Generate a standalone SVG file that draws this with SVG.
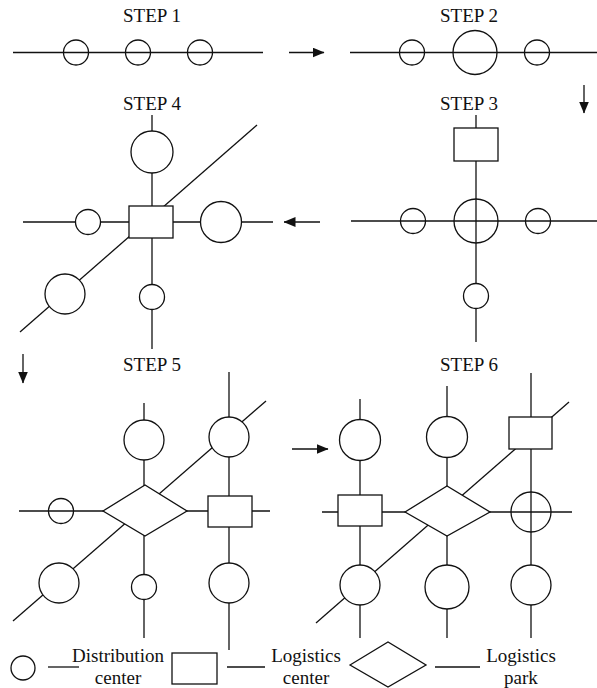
<svg xmlns="http://www.w3.org/2000/svg" width="597" height="688" viewBox="0 0 597 688">
<style>
.ln{stroke:#111;stroke-width:1.3;fill:none}
.nd{stroke:#111;stroke-width:1.3;fill:#fff}
.no{stroke:#111;stroke-width:1.3;fill:none}
.ar{stroke:#111;stroke-width:1.3;fill:none;marker-end:url(#ah)}
.t{font-size:19px;fill:#111;text-anchor:middle}
</style>
<defs>
<marker id="ah" viewBox="0 0 12 10" refX="11.5" refY="5" markerWidth="12" markerHeight="10" markerUnits="userSpaceOnUse" orient="auto">
<path d="M0,0 L12,5 L0,10 z" fill="#111"/>
</marker>
</defs>
<rect width="597" height="688" fill="#fff"/>

<g id="titles" font-family="'Liberation Serif', 'Times New Roman', Times, serif">
<text class="t" x="152" y="22">STEP 1</text>
<text class="t" x="469" y="22">STEP 2</text>
<text class="t" x="152" y="110">STEP 4</text>
<text class="t" x="469" y="110">STEP 3</text>
<text class="t" x="152" y="371">STEP 5</text>
<text class="t" x="469" y="371">STEP 6</text>
</g>

<g id="step-arrows">
<line class="ar" x1="289" y1="52.5" x2="324" y2="52.5"/>
<line class="ar" x1="584" y1="85" x2="584" y2="113"/>
<line class="ar" x1="320" y1="222" x2="284" y2="222"/>
<line class="ar" x1="23" y1="354" x2="23" y2="383"/>
<line class="ar" x1="292" y1="449" x2="328" y2="449"/>
</g>

<g id="connectors">
<line class="ln" x1="13" y1="52.5" x2="263" y2="52.5"/>
<line class="ln" x1="350" y1="52.5" x2="597" y2="52.5"/>
<line class="ln" x1="476" y1="115" x2="476" y2="342"/>
<line class="ln" x1="351" y1="221" x2="597" y2="221"/>
<line class="ln" x1="152" y1="115" x2="152" y2="349"/>
<line class="ln" x1="23" y1="222" x2="273" y2="222"/>
<line class="ln" x1="257" y1="125" x2="20" y2="332"/>
<line class="ln" x1="144" y1="403" x2="144" y2="638"/>
<line class="ln" x1="229" y1="372" x2="229" y2="650"/>
<line class="ln" x1="19" y1="511" x2="270" y2="511"/>
<line class="ln" x1="266" y1="401" x2="13" y2="621"/>
<line class="ln" x1="360" y1="399" x2="360" y2="638"/>
<line class="ln" x1="447" y1="386" x2="447" y2="638"/>
<line class="ln" x1="531" y1="373" x2="531" y2="638"/>
<line class="ln" x1="322" y1="512" x2="572" y2="512"/>
<line class="ln" x1="569" y1="402" x2="316" y2="623"/>
<line class="ln" x1="48" y1="667" x2="79" y2="667"/>
<line class="ln" x1="227" y1="667" x2="265" y2="667"/>
<line class="ln" x1="435" y1="667" x2="480" y2="667"/>
</g>

<g id="s1-dc1"><circle class="no" cx="76" cy="52.5" r="12.5"/></g>
<g id="s1-dc2"><circle class="no" cx="138" cy="52.5" r="12.5"/></g>
<g id="s1-dc3"><circle class="no" cx="200" cy="52.5" r="12.5"/></g>

<g id="s2-dc1"><circle class="no" cx="412" cy="52.5" r="12.5"/></g>
<g id="s2-dc2"><circle class="no" cx="475" cy="52.5" r="22"/></g>
<g id="s2-dc3"><circle class="no" cx="537" cy="52.5" r="12.5"/></g>

<g id="s3-lc"><rect class="nd" x="454" y="128" width="44" height="33"/></g>
<g id="s3-dc-left"><circle class="no" cx="413" cy="221" r="12.5"/></g>
<g id="s3-dc-center"><circle class="no" cx="476" cy="221" r="22"/></g>
<g id="s3-dc-right"><circle class="no" cx="538" cy="221" r="12.5"/></g>
<g id="s3-dc-bottom"><circle class="nd" cx="476" cy="296" r="12.5"/></g>

<g id="s4-dc-top"><circle class="nd" cx="152" cy="152" r="21"/></g>
<g id="s4-lc"><rect class="nd" x="129" y="206" width="44" height="32"/></g>
<g id="s4-dc-left"><circle class="nd" cx="88" cy="222" r="12.5"/></g>
<g id="s4-dc-right"><circle class="nd" cx="221" cy="222" r="20.5"/></g>
<g id="s4-dc-bottom"><circle class="nd" cx="152" cy="297" r="12.5"/></g>
<g id="s4-dc-diag"><circle class="nd" cx="65" cy="294" r="20"/></g>

<g id="s5-dc-top"><circle class="nd" cx="144" cy="440" r="20"/></g>
<g id="s5-lp"><polygon class="nd" points="103,511 145,485 187,511 145,536"/></g>
<g id="s5-dc-left"><circle class="no" cx="61" cy="511" r="12.5"/></g>
<g id="s5-dc-bottom"><circle class="nd" cx="144" cy="587" r="12.5"/></g>
<g id="s5-dc-diag"><circle class="nd" cx="59" cy="583" r="20"/></g>
<g id="s5-dc-rtop"><circle class="nd" cx="229" cy="437" r="20"/></g>
<g id="s5-lc"><rect class="nd" x="208" y="496" width="44" height="31"/></g>
<g id="s5-dc-rbottom"><circle class="nd" cx="229" cy="583" r="20"/></g>

<g id="s6-dc-ltop"><circle class="nd" cx="360" cy="440" r="20.5"/></g>
<g id="s6-lc-left"><rect class="nd" x="338" y="495" width="44" height="31"/></g>
<g id="s6-dc-lbottom"><circle class="nd" cx="360" cy="585" r="20"/></g>
<g id="s6-dc-mtop"><circle class="nd" cx="447" cy="437" r="20.5"/></g>
<g id="s6-lp"><polygon class="nd" points="405,512 447,486 490,512 447,536"/></g>
<g id="s6-dc-mbottom"><circle class="nd" cx="447" cy="587" r="22"/></g>
<g id="s6-lc-right"><rect class="nd" x="509" y="417" width="43" height="32"/></g>
<g id="s6-dc-rmid"><circle class="no" cx="531" cy="512" r="20"/></g>
<g id="s6-dc-rbottom"><circle class="nd" cx="531" cy="585" r="20"/></g>

<g id="legend" font-family="'Liberation Serif', 'Times New Roman', Times, serif">
<g id="legend-dc">
<circle class="nd" cx="23" cy="668" r="12"/>
<text class="t" x="118" y="662">Distribution</text>
<text class="t" x="118" y="684">center</text>
</g>
<g id="legend-lc">
<rect class="nd" x="172" y="653" width="45" height="31"/>
<text class="t" x="306" y="662">Logistics</text>
<text class="t" x="306" y="684">center</text>
</g>
<g id="legend-lp">
<polygon class="nd" points="350,665 388,642 426,665 388,687"/>
<text class="t" x="521" y="662">Logistics</text>
<text class="t" x="521" y="684">park</text>
</g>
</g>
</svg>
